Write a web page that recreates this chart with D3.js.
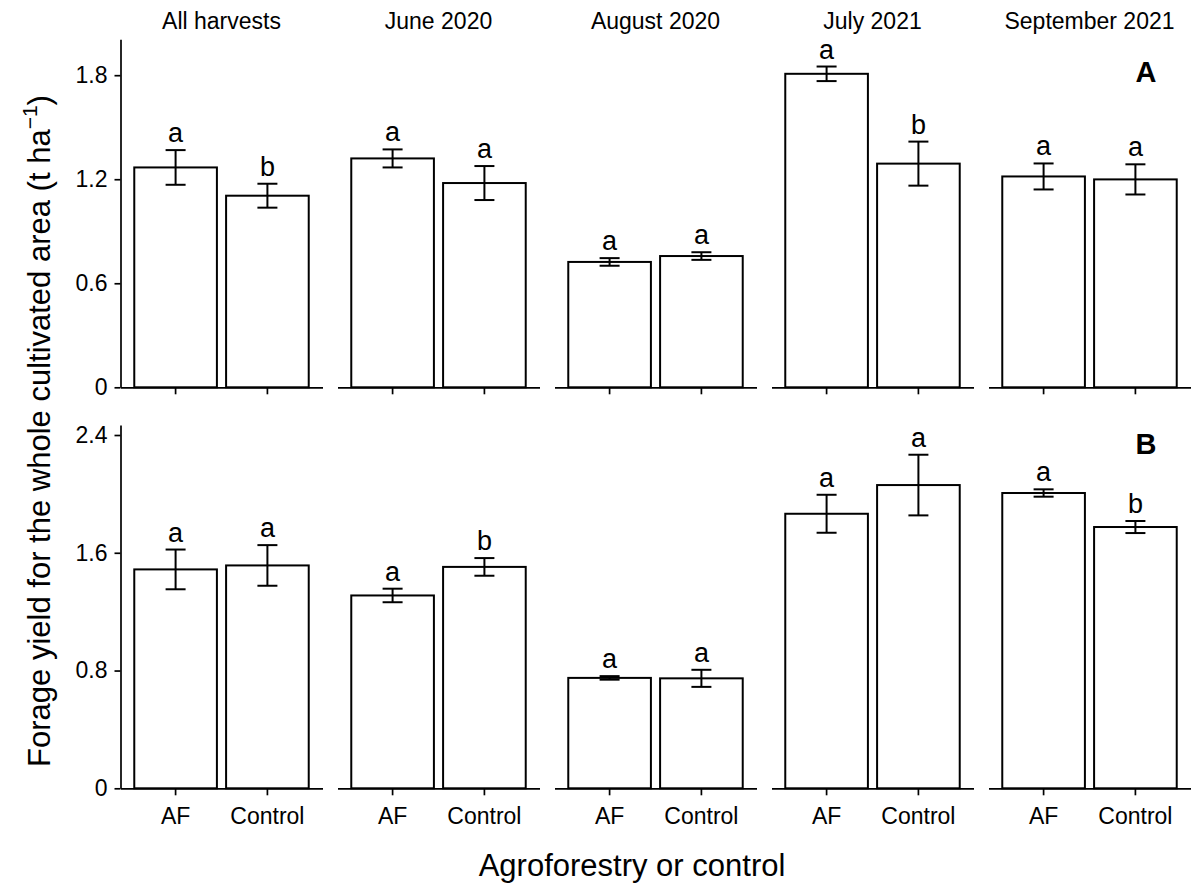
<!DOCTYPE html>
<html>
<head>
<meta charset="utf-8">
<script src="https://cdn.jsdelivr.net/npm/d3@7"></script>
<style>
  body { margin: 0; background: #fff; }
  svg text { font-family: 'Liberation Sans', Arial, sans-serif; fill: #000; }
</style>
</head>
<body>
<svg id="chart"></svg>
<script>
let harvests = ['All harvests', 'June 2020', 'August 2020', 'July 2021', 'September 2021']
let treatments = ['AF', 'Control']

// panel A
let meanA_AF = [1.268, 1.32, 0.723, 1.808, 1.216]
let seA_AF = [0.10, 0.052, 0.022, 0.042, 0.075]
let meanA_Control = [1.105, 1.178, 0.757, 1.29, 1.199]
let seA_Control = [0.069, 0.098, 0.022, 0.127, 0.087]
let lettersA_AF = ['a', 'a', 'a', 'a', 'a']
let lettersA_Control = ['b', 'a', 'a', 'b', 'a']
let ticksA = [0, 0.6, 1.2, 1.8]

// panel B
let meanB_AF = [1.487, 1.31, 0.75, 1.865, 2.006]
let seB_AF = [0.135, 0.046, 0.012, 0.129, 0.025]
let meanB_Control = [1.514, 1.504, 0.747, 2.06, 1.775]
let seB_Control = [0.138, 0.06, 0.058, 0.206, 0.041]
let lettersB_AF = ['a', 'a', 'a', 'a', 'a']
let lettersB_Control = ['a', 'b', 'a', 'a', 'b']
let ticksB = [0, 0.8, 1.6, 2.4]

let width = 1193
let height = 886
let panelLeft = 120.5
let panelStep = 217
let panelWidth = 202

let rows = [
  {tag: 'A', top: 39.3, bottom: 387.3, max: 2.007, tagValue: 1.76, ticks: ticksA,
   mean: [meanA_AF, meanA_Control], se: [seA_AF, seA_Control],
   letters: [lettersA_AF, lettersA_Control], titles: true, xLabels: false},
  {tag: 'B', top: 425, bottom: 788.3, max: 2.468, tagValue: 2.27, ticks: ticksB,
   mean: [meanB_AF, meanB_Control], se: [seB_AF, seB_Control],
   letters: [lettersB_AF, lettersB_Control], titles: false, xLabels: true}
]

let svg = d3.select('#chart')
  .attr('width', width)
  .attr('height', height)

svg.append('rect')
   .attr('width', width)
   .attr('height', height)
   .attr('fill', '#fff')

let xScale = d3.scaleBand()
  .domain(treatments)
  .range([0, panelWidth])
  .paddingInner(0.1)
  .paddingOuter(0.15)

let capHalf = 10

let drawPanel = (row, i) => {
  let yScale = d3.scaleLinear()
    .domain([0, row.max])
    .range([row.bottom, row.top])

  let values = treatments.map((t, j) => ({
    t: t,
    mean: row.mean[j][i],
    se: row.se[j][i],
    letter: row.letters[j][i]
  }))

  let g = svg.append('g')
    .attr('transform', 'translate(' + (panelLeft + i * panelStep) + ', 0)')

  g.selectAll('rect.bar')
   .data(values)
   .enter()
   .append('rect')
   .attr('class', 'bar')
   .attr('x', (d) => xScale(d.t))
   .attr('width', xScale.bandwidth())
   .attr('y', (d) => yScale(d.mean))
   .attr('height', (d) => yScale(0) - yScale(d.mean))
   .attr('fill', '#fff')
   .attr('stroke', '#000')
   .attr('stroke-width', 2)

  let cx = (d) => xScale(d.t) + xScale.bandwidth() / 2

  let err = g.selectAll('g.err')
    .data(values)
    .enter()
    .append('g')
    .attr('class', 'err')
    .attr('stroke', '#000')
    .attr('stroke-width', 2)

  err.append('line')
     .attr('x1', cx).attr('x2', cx)
     .attr('y1', (d) => yScale(d.mean - d.se))
     .attr('y2', (d) => yScale(d.mean + d.se))
  err.append('line')
     .attr('x1', (d) => cx(d) - capHalf).attr('x2', (d) => cx(d) + capHalf)
     .attr('y1', (d) => yScale(d.mean + d.se))
     .attr('y2', (d) => yScale(d.mean + d.se))
  err.append('line')
     .attr('x1', (d) => cx(d) - capHalf).attr('x2', (d) => cx(d) + capHalf)
     .attr('y1', (d) => yScale(d.mean - d.se))
     .attr('y2', (d) => yScale(d.mean - d.se))

  g.selectAll('text.letter')
   .data(values)
   .enter()
   .append('text')
   .attr('class', 'letter')
   .attr('x', cx)
   .attr('y', (d) => yScale(d.mean + d.se) - 8)
   .attr('text-anchor', 'middle')
   .attr('font-size', 27)
   .text((d) => d.letter)

  let xAxis = d3.axisBottom(xScale)
    .tickSize(7)
    .tickSizeOuter(0)
    .tickPadding(12)
    .tickFormat((d) => row.xLabels ? d : '')

  let xg = g.append('g')
    .attr('transform', 'translate(0, ' + row.bottom + ')')
    .call(xAxis)
  xg.attr('font-size', 23).attr('font-family', null)
  xg.selectAll('path, line').attr('stroke-width', 1.7)

  if (i === 0) {
    let yAxis = d3.axisLeft(yScale)
      .tickValues(row.ticks)
      .tickSize(6)
      .tickSizeOuter(0)
      .tickPadding(7)
      .tickFormat((d) => d === 0 ? '0' : d.toFixed(1))
    let yg = g.append('g').call(yAxis)
    yg.attr('font-size', 23).attr('font-family', null)
    yg.selectAll('path, line').attr('stroke-width', 1.7)
  }

  if (row.titles) {
    g.append('text')
     .attr('x', panelWidth / 2)
     .attr('y', 29)
     .attr('text-anchor', 'middle')
     .attr('font-size', 23)
     .text(harvests[i])
  }

  if (i === harvests.length - 1) {
    g.append('text')
     .attr('x', 1146 - (panelLeft + i * panelStep))
     .attr('y', yScale(row.tagValue))
     .attr('text-anchor', 'middle')
     .attr('font-size', 29)
     .attr('font-weight', 'bold')
     .text(row.tag)
  }
}

rows.forEach((row) => {
  harvests.forEach((h, i) => drawPanel(row, i))
})

// axis titles
svg.append('text')
   .attr('x', 632)
   .attr('y', 876)
   .attr('text-anchor', 'middle')
   .attr('font-size', 31)
   .text('Agroforestry or control')

let yTitle = svg.append('text')
  .attr('transform', 'translate(50, 431) rotate(-90)')
  .attr('text-anchor', 'middle')
  .attr('font-size', 31)
yTitle.append('tspan').text('Forage yield for the whole cultivated area (t ha')
yTitle.append('tspan').attr('dy', -13).attr('font-size', 21).text('\u22121')
yTitle.append('tspan').attr('dy', 13).text(')')
</script>
</body>
</html>
